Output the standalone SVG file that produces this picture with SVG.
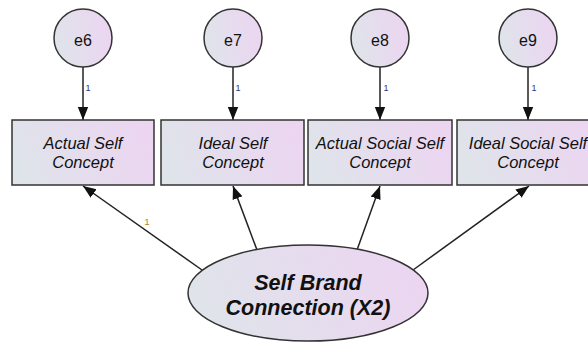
<svg xmlns="http://www.w3.org/2000/svg" width="588" height="342" viewBox="0 0 588 342">
  <defs>
    <linearGradient id="fillGrad" x1="0" y1="0.6" x2="1" y2="0.4">
      <stop offset="0" stop-color="#dfe4ea"/>
      <stop offset="1" stop-color="#ecd5f1"/>
    </linearGradient>
    <marker id="arrow" markerUnits="userSpaceOnUse" markerWidth="14" markerHeight="12" viewBox="0 0 14 12" refX="13" refY="6" orient="auto">
      <path d="M0,0.8 L13,6 L0,11.2 Z" fill="#111"/>
    </marker>
    <style>
      .node { fill: url(#fillGrad); stroke: #333; stroke-width: 1.5; }
      .conn { stroke: #222; stroke-width: 1.5; fill: none; marker-end: url(#arrow); }
      .err { font-family: "Liberation Sans", Arial, sans-serif; font-size: 16px; fill: #111; text-anchor: middle; }
      .obs { font-family: "Liberation Sans", Arial, sans-serif; font-size: 16.5px; font-style: italic; fill: #111; text-anchor: middle; }
      .lat { font-family: "Liberation Sans", Arial, sans-serif; font-size: 21.5px; font-style: italic; font-weight: bold; fill: #111; text-anchor: middle; }
      .w1 { font-family: "Liberation Sans", Arial, sans-serif; font-size: 9px; fill: #2b3a6e; text-anchor: middle; }
      .w2 { font-family: "Liberation Sans", Arial, sans-serif; font-size: 9px; fill: #b8781c; text-anchor: middle; }
    </style>
  </defs>

  <rect width="588" height="342" fill="#ffffff"/>

  <!-- paths: error terms to indicators, latent to indicators -->
  <g id="connectors">
    <line class="conn" x1="83" y1="67" x2="83" y2="120"/>
    <line class="conn" x1="233" y1="67" x2="233" y2="120"/>
    <line class="conn" x1="380" y1="67" x2="380" y2="120"/>
    <line class="conn" x1="528" y1="67" x2="528" y2="120"/>
    <line class="conn" x1="202" y1="270" x2="83" y2="186"/>
    <line class="conn" x1="257" y1="250" x2="233" y2="186"/>
    <line class="conn" x1="357" y1="250" x2="380" y2="186"/>
    <line class="conn" x1="413" y1="270" x2="529" y2="186"/>
    <text class="w1" x="88" y="91">1</text>
    <text class="w1" x="238" y="91">1</text>
    <text class="w1" x="386" y="91">1</text>
    <text class="w1" x="534" y="91">1</text>
    <text class="w2" x="147" y="225">1</text>
  </g>

  <g id="e6">
    <circle class="node" cx="83" cy="38" r="29"/>
    <text class="err" x="83" y="46">e6</text>
  </g>
  <g id="e7">
    <circle class="node" cx="233" cy="38" r="29"/>
    <text class="err" x="233" y="46">e7</text>
  </g>
  <g id="e8">
    <circle class="node" cx="380" cy="38" r="29"/>
    <text class="err" x="380" y="46">e8</text>
  </g>
  <g id="e9">
    <circle class="node" cx="528" cy="38" r="29"/>
    <text class="err" x="528" y="46">e9</text>
  </g>

  <g id="actual-self">
    <rect class="node" x="12" y="120" width="142" height="65"/>
    <text class="obs" x="83" y="149">Actual Self</text>
    <text class="obs" x="83" y="168">Concept</text>
  </g>
  <g id="ideal-self">
    <rect class="node" x="161" y="120" width="143" height="65"/>
    <text class="obs" x="233" y="149">Ideal Self</text>
    <text class="obs" x="233" y="168">Concept</text>
  </g>
  <g id="actual-social-self">
    <rect class="node" x="308" y="120" width="144" height="65"/>
    <text class="obs" x="380" y="149">Actual Social Self</text>
    <text class="obs" x="380" y="168">Concept</text>
  </g>
  <g id="ideal-social-self">
    <rect class="node" x="457" y="120" width="143" height="65"/>
    <text class="obs" x="528" y="149">Ideal Social Self</text>
    <text class="obs" x="528" y="168">Concept</text>
  </g>

  <g id="self-brand-connection">
    <ellipse class="node" cx="308" cy="293" rx="120" ry="48"/>
    <text class="lat" x="308" y="290">Self Brand</text>
    <text class="lat" x="308" y="315">Connection (X2)</text>
  </g>
</svg>
